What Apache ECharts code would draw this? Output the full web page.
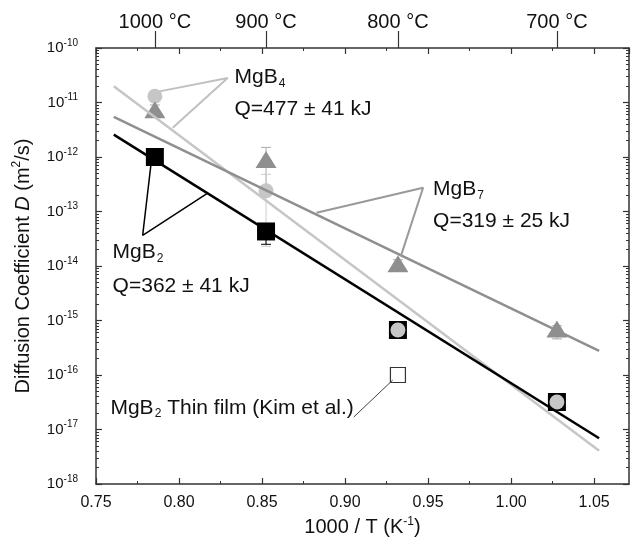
<!DOCTYPE html>
<html><head><meta charset="utf-8">
<script src="https://cdn.jsdelivr.net/npm/echarts@6/dist/echarts.min.js"></script>
<style>html,body{margin:0;padding:0;background:#fff}#c{width:641px;height:552px}</style>
</head><body><div id="c"></div>
<script>
// ---- data ----
const tempCelsius = [1000, 900, 800, 700];
const tempLabels = ['1000 °C', '900 °C', '800 °C', '700 °C'];
const invT = tempCelsius.map(c => 1000 / (c + 273.15));
const xMajorTicks = [0.75, 0.80, 0.85, 0.90, 0.95, 1.00, 1.05];
const xMinorTicks = [0.775, 0.825, 0.875, 0.925, 0.975, 1.025];
const yDecades = [-18, -17, -16, -15, -14, -13, -12, -11, -10];

const mgb2D = [1.0e-12, 4.3e-14, 6.7e-16, 3.2e-17];
const mgb4D = [1.3e-11, 2.4e-13, 6.7e-16, 3.2e-17];
const mgb7D = [7.4e-12, 9.0e-13, 1.1e-14, 7.0e-16];
const thinFilmD = [1.0e-16];   // at 800 °C

// error bars: [1000/T, low, high]
const mgb2Err = [[invT[1], 2.5e-14, 5.5e-14]];
const mgb4Err = [[invT[1], 2.3e-14, 4.8e-13]];
const mgb7Err = [[invT[0], 5.5e-12, 9e-12], [invT[1], 3e-13, 1.5e-12], [invT[2], 8e-15, 1.3e-14], [invT[3], 4.6e-16, 8e-16]];

// Arrhenius fit lines (end points)
const fitX = [0.7607, 1.053];
const mgb2Fit = [2.58e-12, 6.9e-18];
const mgb4Fit = [1.98e-11, 4.09e-18];
const mgb7Fit = [5.45e-12, 2.77e-16];

// annotation leaders (data coords)
const mgb4Leader = [[0.7882, 1.6e-11], [0.8293, 2.82e-11], [0.7962, 3.43e-12]];
const mgb2Leader = [[0.7831, 7.3e-13], [0.7781, 3.65e-14], [0.8168, 2.12e-13]];
const mgb7Leader = [[0.8828, 9.5e-14], [0.947, 2.73e-13], [0.9336, 1.52e-14]];
const filmLeader = [[0.9052, 1.69e-17], [0.9287, 8.07e-17]];
const annotations = [
  {pos: [0.8334, 2.86e-11], text: '{t|MgB}{s|4}'},
  {pos: [0.8334, 7.4e-12], text: '{t|Q=477 ± 41 kJ}'},
  {pos: [0.7600, 1.76e-14], text: '{t|MgB}{s|2}'},
  {pos: [0.7600, 4.3e-15], text: '{t|Q=362 ± 41 kJ}'},
  {pos: [0.9530, 2.54e-13], text: '{t|MgB}{s|7}'},
  {pos: [0.9530, 6.67e-14], text: '{t|Q=319 ± 25 kJ}'},
  {pos: [0.7587, 2.48e-17], text: '{t|MgB}{s|2}{t| Thin film (Kim et al.)}'}
];

// minor log ticks (decoration)
const yMinorTicks = [];
for (let n = -18; n < -10; n++) for (let k = 2; k <= 9; k++) yMinorTicks.push(n + Math.log10(k));

const FONT = '"Liberation Sans", Arial, sans-serif';
const TXT = '#111';
const AX = '#333';
const C_B2 = '#000000', C_B4 = '#c6c6c6', C_B7 = '#8f8f8f';

const chart = echarts.init(document.getElementById('c'));
const XMIN = 0.75, XMAX = 1.071;

function errSeries(data, color) {
  return {
    type: 'custom', data: data, z: 2, silent: true,
    encode: {x: 0, y: [1, 2]},
    renderItem: (params, api) => {
      const x = api.value(0);
      const p1 = api.coord([x, api.value(2)]);
      const p2 = api.coord([x, api.value(1)]);
      const w = 5, st = {stroke: color, lineWidth: 1};
      return {type: 'group', children: [
        {type: 'line', shape: {x1: p1[0], y1: p1[1], x2: p2[0], y2: p2[1]}, style: st},
        {type: 'line', shape: {x1: p1[0] - w, y1: p1[1], x2: p1[0] + w, y2: p1[1]}, style: st},
        {type: 'line', shape: {x1: p2[0] - w, y1: p2[1], x2: p2[0] + w, y2: p2[1]}, style: st}
      ]};
    }
  };
}
function lineSeries(data, color, width, z) {
  return {type: 'line', data: data, symbol: 'none', silent: true, z: z,
    lineStyle: {color: color, width: width}, animation: false};
}
const rich = {
  t: {fontSize: 21, fontFamily: FONT, color: TXT, lineHeight: 24},
  s: {fontSize: 12, fontFamily: FONT, color: TXT, lineHeight: 12, verticalAlign: 'bottom', padding: [0, 0, 0, 1]}
};
const titleRich = {
  t: {fontSize: 20, fontFamily: FONT, color: TXT, lineHeight: 24},
  i: {fontSize: 20, fontFamily: FONT, color: TXT, lineHeight: 24, fontStyle: 'italic'},
  p: {fontSize: 12, fontFamily: FONT, color: TXT, lineHeight: 12, verticalAlign: 'top'}
};

const option = {
  animation: false,
  backgroundColor: '#fff',
  grid: {left: 96, right: 12, top: 48, bottom: 68},
  xAxis: [
    {type: 'value', position: 'bottom', min: XMIN, max: XMAX, interval: 0.05,
     axisLine: {lineStyle: {color: AX, width: 1.5}},
     axisTick: {inside: true, length: 6, lineStyle: {color: AX, width: 1.2}},
     axisLabel: {showMaxLabel: false, color: TXT, fontSize: 16, fontFamily: FONT, margin: 11,
       formatter: v => v.toFixed(2)},
     splitLine: {show: false},
     name: '{t|1000 / T (K}{p|-1}{t|)}', nameLocation: 'middle', nameGap: 27,
     nameTextStyle: {rich: titleRich}},
    {type: 'value', position: 'top', min: XMIN, max: XMAX, interval: 0.05,
     axisLine: {lineStyle: {color: AX, width: 1.5}},
     axisTick: {inside: true, length: 6, lineStyle: {color: AX, width: 1.2}},
     axisLabel: {show: false}, splitLine: {show: false}},
    {type: 'value', position: 'bottom', min: XMIN, max: XMAX,
     axisLine: {show: false},
     axisTick: {inside: true, length: 3, customValues: xMinorTicks, lineStyle: {color: AX, width: 1}},
     axisLabel: {show: false}, splitLine: {show: false}},
    {type: 'value', position: 'top', min: XMIN, max: XMAX,
     axisLine: {show: false},
     axisTick: {inside: true, length: 3, customValues: xMinorTicks, lineStyle: {color: AX, width: 1}},
     axisLabel: {show: false}, splitLine: {show: false}},
    {type: 'value', position: 'top', min: XMIN, max: XMAX,
     axisLine: {show: false},
     axisTick: {inside: false, length: 17, customValues: invT, lineStyle: {color: AX, width: 1.2}},
     axisLabel: {customValues: invT, margin: 16, color: TXT, fontSize: 20, fontFamily: FONT,
       formatter: v => {
         let best = 0;
         invT.forEach((t, i) => { if (Math.abs(t - v) < Math.abs(invT[best] - v)) best = i; });
         return tempLabels[best];
       }},
     splitLine: {show: false}}
  ],
  yAxis: [
    {type: 'log', logBase: 10, position: 'left', min: 1e-18, max: 1e-10, splitNumber: 8,
     axisLine: {lineStyle: {color: AX, width: 1.5}},
     axisTick: {inside: true, length: 6, lineStyle: {color: AX, width: 1.2}},
     axisLabel: {margin: 18, formatter: v => '{b|10}{s|' + Math.round(Math.log10(v)) + '}',
       rich: {
         b: {fontSize: 15, fontFamily: FONT, color: TXT, lineHeight: 20},
         s: {fontSize: 10, fontFamily: FONT, color: TXT, lineHeight: 10, verticalAlign: 'top'}}},
     splitLine: {show: false},
     name: '{t|Diffusion Coefficient }{i|D}{t| (m}{p|2}{t|/s)}', nameLocation: 'middle', nameGap: 61,
     nameRotate: 90,
     nameTextStyle: {rich: titleRich}},
    {type: 'log', logBase: 10, position: 'right', min: 1e-18, max: 1e-10, splitNumber: 8,
     axisLine: {lineStyle: {color: AX, width: 1.5}},
     axisTick: {inside: true, length: 6, lineStyle: {color: AX, width: 1.2}},
     axisLabel: {show: false}, splitLine: {show: false}},
    {type: 'value', position: 'left', min: -18, max: -10,
     axisLine: {show: false},
     axisTick: {inside: true, length: 3, customValues: yMinorTicks, lineStyle: {color: AX, width: 1}},
     axisLabel: {show: false}, splitLine: {show: false}},
    {type: 'value', position: 'right', min: -18, max: -10,
     axisLine: {show: false},
     axisTick: {inside: true, length: 3, customValues: yMinorTicks, lineStyle: {color: AX, width: 1}},
     axisLabel: {show: false}, splitLine: {show: false}}
  ],
  series: [
    errSeries(mgb7Err, '#aaaaaa'),
    errSeries(mgb4Err, '#cccccc'),
    errSeries(mgb2Err, '#000000'),
    {type: 'scatter', name: 'MgB2', data: invT.map((x, i) => [x, mgb2D[i]]), symbol: 'rect', symbolSize: 18,
     itemStyle: {color: C_B2, opacity: 1}, z: 3},
    {type: 'scatter', name: 'MgB4', data: invT.map((x, i) => [x, mgb4D[i]]), symbol: 'circle', symbolSize: 15,
     itemStyle: {color: C_B4, opacity: 1}, z: 4},
    {type: 'scatter', name: 'MgB7', data: invT.map((x, i) => [x, mgb7D[i]]), symbol: 'triangle', symbolSize: [21, 17],
     itemStyle: {color: C_B7, opacity: 1}, z: 5},
    {type: 'scatter', name: 'Thin film', data: [[invT[2], thinFilmD[0]]], symbol: 'rect', symbolSize: 15,
     itemStyle: {color: '#fff', borderColor: '#333', borderWidth: 1.2, opacity: 1}, z: 5},
    lineSeries(fitX.map((x, i) => [x, mgb4Fit[i]]), C_B4, 2.5, 6),
    lineSeries(fitX.map((x, i) => [x, mgb7Fit[i]]), C_B7, 2.5, 6),
    lineSeries(fitX.map((x, i) => [x, mgb2Fit[i]]), C_B2, 2.5, 6),
    lineSeries(mgb4Leader, '#c0c0c0', 2, 7),
    lineSeries(mgb2Leader, '#000', 1.5, 7),
    lineSeries(mgb7Leader, '#999', 2, 7),
    lineSeries(filmLeader, '#444', 1, 7),
    {type: 'scatter', data: annotations.map(a => a.pos), symbolSize: 0, silent: true, z: 8,
     label: {show: true, position: 'right', distance: 0, color: TXT, opacity: 1,
       formatter: p => annotations[p.dataIndex].text, rich: rich}}
  ]
};
chart.setOption(option);
</script>
</body></html>
